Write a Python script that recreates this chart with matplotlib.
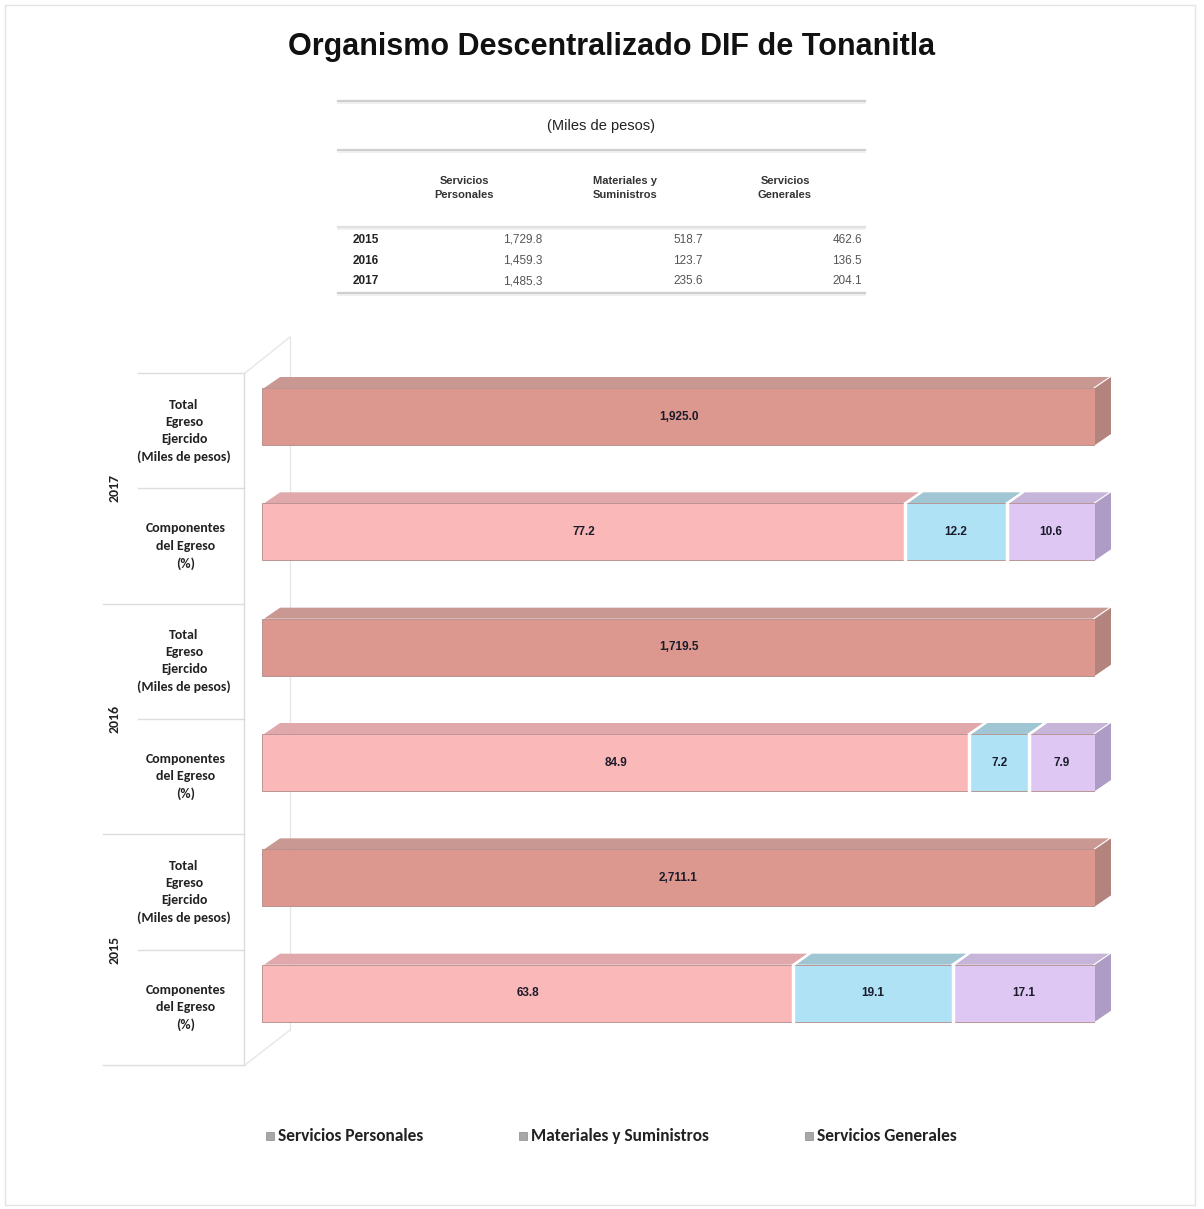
import matplotlib
matplotlib.use("Agg")
import matplotlib.pyplot as plt
from matplotlib import font_manager
from matplotlib.patches import Polygon, Rectangle
from matplotlib.lines import Line2D

# ---------------- data ----------------
table_years = ["2015", "2016", "2017"]
servicios_personales = [1729.8, 1459.3, 1485.3]
materiales_suministros = [518.7, 123.7, 235.6]
servicios_generales = [462.6, 136.5, 204.1]

chart_years = ["2017", "2016", "2015"]
total_egreso = [1925.0, 1719.5, 2711.1]
pct_sp = [77.2, 84.9, 63.8]
pct_ms = [12.2, 7.2, 19.1]
pct_sg = [10.6, 7.9, 17.1]

series_names = ["Servicios Personales", "Materiales y Suministros", "Servicios Generales"]
table_headers = ["Servicios\nPersonales", "Materiales y\nSuministros", "Servicios\nGenerales"]

# ---------------- fonts ----------------
names = {f.name for f in font_manager.fontManager.ttflist}
NARROW = "Liberation Sans Narrow" if "Liberation Sans Narrow" in names else "Liberation Sans"
CAL = "Carlito" if "Carlito" in names else "Lato"
ARIAL = "Liberation Sans"

W, H = 1204, 1209
fig = plt.figure(figsize=(W / 100, H / 100), dpi=100)
fig.patch.set_facecolor("white")


def fx(x):
    return x / W


def fy(y):
    return 1 - y / H


# outer frame
fig.add_artist(Rectangle((fx(5), fy(1205)), fx(1195) - fx(5), fy(5) - fy(1205),
                         transform=fig.transFigure, fill=False, edgecolor="#e4e4e4", lw=1))

# title
fig.text(fx(612), fy(47), "Organismo Descentralizado DIF de Tonanitla",
         ha="center", va="center", fontsize=22, fontweight="bold", family=NARROW, color="#111111")

# ---------------- table ----------------
for yy, c in [(101, "#cfcfcf"), (150, "#cfcfcf"), (227, "#e0e0e0"), (293, "#cfcfcf")]:
    fig.add_artist(Line2D([fx(338), fx(865)], [fy(yy), fy(yy)], transform=fig.transFigure,
                          color=c, lw=1.6))
    fig.add_artist(Line2D([fx(338), fx(865)], [fy(yy + 2), fy(yy + 2)], transform=fig.transFigure,
                          color="#eeeeee", lw=1.2))
fig.text(fx(601), fy(126), "(Miles de pesos)", ha="center", va="center",
         fontsize=10.5, family=NARROW, color="#222222")
for cx, h in zip([464, 625, 785], table_headers):
    fig.text(fx(cx), fy(188), h, ha="center", va="center", fontsize=8,
             family=ARIAL, color="#333333", linespacing=1.45, fontweight="bold")
cols = [servicios_personales, materiales_suministros, servicios_generales]
for r, yr in enumerate(table_years):
    yy = 240 + r * 20.5
    fig.text(fx(353), fy(yy), yr, ha="left", va="center", fontsize=8.5,
             fontweight="bold", family=ARIAL, color="#222222")
    for rx, col in zip([542, 703, 862], cols):
        fig.text(fx(rx), fy(yy), f"{col[r]:,.1f}", ha="right", va="center",
                 fontsize=8.5, family=NARROW, color="#555555")

# ---------------- wall / category axis (behind bars) ----------------
wall = "#e6e6e6"
for xs, ys in [([290, 290], [337, 1030]), ([245, 290], [373, 337]), ([245, 290], [1065, 1030])]:
    fig.add_artist(Line2D([fx(v) for v in xs], [fy(v) for v in ys], transform=fig.transFigure,
                          color=wall, lw=1, zorder=-1))
fig.add_artist(Line2D([fx(244), fx(244)], [fy(373), fy(1065)], transform=fig.transFigure,
                      color="#dcdcdc", lw=1))

row_h = (1065 - 373) / 6
for i in range(7):
    yy = 373 + i * row_h
    x0 = 103 if i % 2 == 0 and i > 0 else 138
    fig.add_artist(Line2D([fx(x0), fx(244)], [fy(yy), fy(yy)], transform=fig.transFigure,
                          color="#dcdcdc", lw=1))

# ---------------- chart ----------------
ax = fig.add_axes([fx(262), fy(1065), fx(1095) - fx(262), fy(373) - fy(1065)])
ax.set_xlim(0, 100)
ax.set_ylim(6, 0)
ax.axis("off")
ax.patch.set_alpha(0)

DX = 16 / 833 * 100
DY = 11 / 115.3
bar_h = 57 / 115.3
off = (15 + 57 / 2) / 115.3

col_total = ("#DC988E", "#C99893", "#B3837E")
col_sp = ("#FBB8B8", "#E0A8AB", "#C99598")
col_ms = ("#AEE2F4", "#A0C6D3", "#8FB4C1")
col_sg = ("#DEC8F3", "#C6B4D9", "#AE9CC4")


def draw3d(y, left, width, cols, label, last):
    front, top, side = cols
    ax.barh(y, width, left=left, height=bar_h, color=front, edgecolor="#b08a88",
            linewidth=0.6, zorder=3)
    ytop = y - bar_h / 2
    ybot = y + bar_h / 2
    r = left + width
    g = 0.25
    ax.add_patch(Polygon([(left + g, ytop), (left + DX + g, ytop - DY), (r + DX - g, ytop - DY),
                          (r - g, ytop)], closed=True, facecolor=top, edgecolor="none",
                         zorder=2, clip_on=False))
    if last:
        ax.add_patch(Polygon([(r, ytop), (r + DX, ytop - DY), (r + DX, ybot - DY), (r, ybot)],
                             closed=True, facecolor=side, edgecolor="none", zorder=2,
                             clip_on=False))
    ax.text(left + width / 2, y, label, ha="center", va="center", fontsize=8.5,
            fontweight="bold", family=NARROW, color="#1b1b2b", zorder=5)


for g, yr in enumerate(chart_years):
    yt = 2 * g + off
    yc = 2 * g + 1 + off
    draw3d(yt, 0, total_egreso[g] / total_egreso[g] * 100, col_total, f"{total_egreso[g]:,.1f}", True)
    left = 0
    segs = [(pct_sp[g], col_sp), (pct_ms[g], col_ms), (pct_sg[g], col_sg)]
    for k, (v, c) in enumerate(segs):
        draw3d(yc, left, v, c, f"{v:.1f}", k == 2)
        left += v
    # white gaps between segments
    left = 0
    for v, c in segs[:-1]:
        left += v
        ax.plot([left, left], [yc - bar_h / 2 - 0.01, yc + bar_h / 2 + 0.01], color="white",
                lw=2.5, zorder=4, solid_capstyle="butt")
        ax.plot([left + 0.1, left + DX], [yc - bar_h / 2, yc - bar_h / 2 - DY], color="white",
                lw=1.5, zorder=2.5, clip_on=False)

for g, yr in enumerate(chart_years):
    ct = 373 + (2 * g + 0.5) * row_h
    cc = 373 + (2 * g + 1.5) * row_h
    fig.text(fx(184), fy(ct), "Total\nEgreso\nEjercido\n(Miles de pesos)", ha="center",
             va="center", fontsize=10, fontweight="bold", family=CAL, color="#222222",
             linespacing=1.5)
    fig.text(fx(186), fy(cc), "Componentes\ndel Egreso\n(%)", ha="center", va="center",
             fontsize=10, fontweight="bold", family=CAL, color="#222222", linespacing=1.5)
    fig.text(fx(115), fy(373 + (2 * g + 1) * row_h), yr, ha="center", va="center", rotation=90,
             fontsize=10, fontweight="bold", family=CAL, color="#222222")

# ---------------- legend ----------------
for mx, name in zip([266, 519, 805], series_names):
    fig.add_artist(Rectangle((fx(mx), fy(1140)), 8 / W, 8 / H, transform=fig.transFigure,
                             facecolor="#a8a8a8", edgecolor="#8a8a8a", lw=0.5))
    fig.text(fx(mx + 12), fy(1136), name, ha="left", va="center", fontsize=12.5,
             fontweight="bold", family=CAL, color="#222222")

fig.savefig("out.png", dpi=100, facecolor="white")
